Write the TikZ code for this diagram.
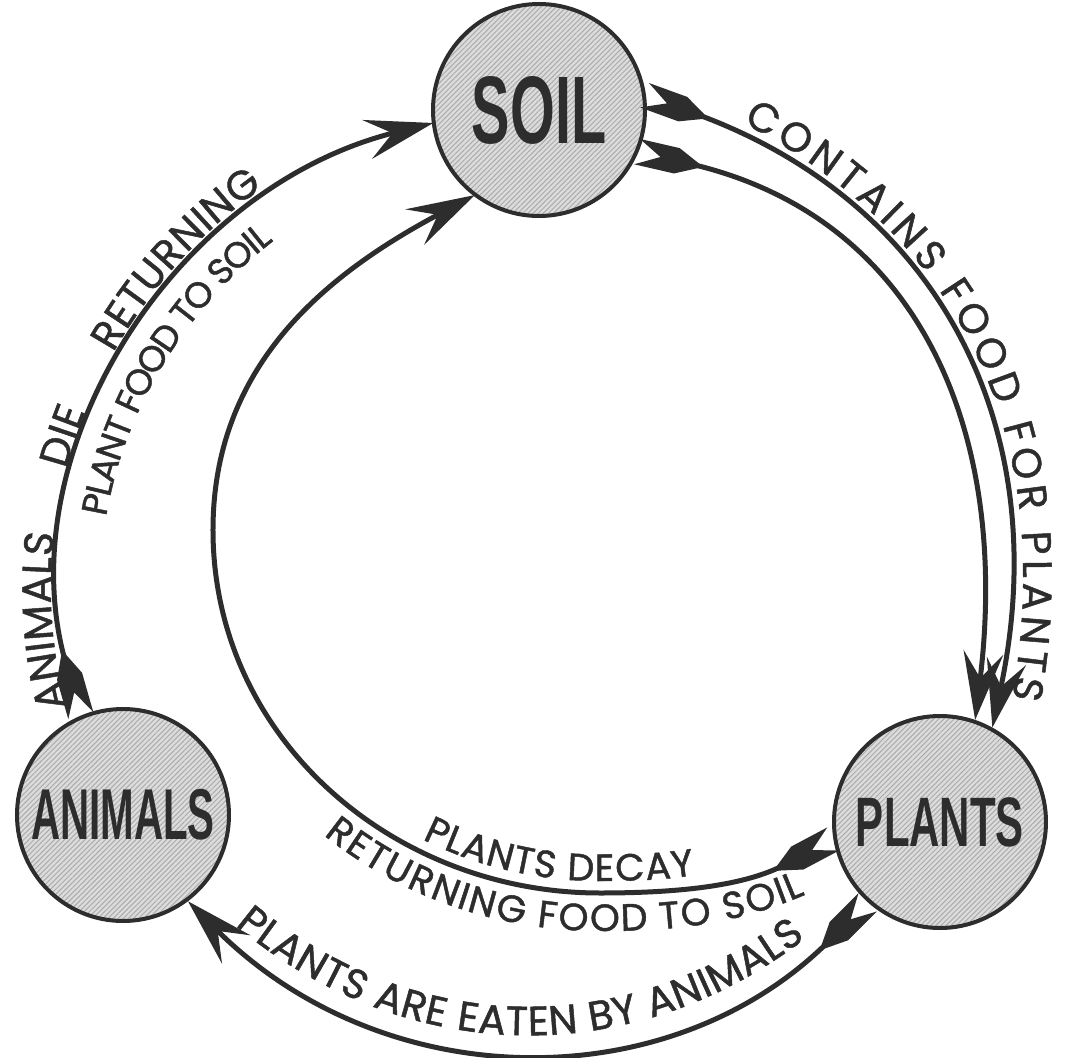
\documentclass[tikz,border=0pt]{standalone}
\usepackage{fontspec}
\usepackage{graphicx}
\usetikzlibrary{arrows.meta,decorations.text,patterns.meta}
\newfontfamily\pathfont{Poppins}[FakeBold=1.2]
\newfontfamily\discfont{Liberation Sans}
\definecolor{ink}{HTML}{2D2D2D}
\definecolor{discgray}{HTML}{DCDCDC}
\definecolor{hatchgray}{HTML}{ABABAB}

\newcommand{\wordsL}{\pathfont\fontsize{20.5}{23}\selectfont}
\newcommand{\wordsS}{\pathfont\fontsize{19}{21}\selectfont}
\newcommand{\wordsXS}{\pathfont\fontsize{18}{20}\selectfont}

% notched tail at the start of every flow
\pgfdeclarearrow{
  name = Fletch,
  parameters = {\the\pgfarrowlength,\the\pgfarrowwidth,\the\pgfarrowinset},
  setup code = {
    \pgfarrowssettipend{0pt}
    \pgfarrowssetbackend{-\pgfarrowlength}
    \pgfarrowssetlineend{-.8\pgfarrowlength}
    \pgfarrowssavethe\pgfarrowlength
    \pgfarrowssavethe\pgfarrowwidth
    \pgfarrowssavethe\pgfarrowinset
  },
  drawing code = {
    \pgfpathmoveto{\pgfqpoint{0pt}{.5\pgfarrowwidth}}
    \pgfpathlineto{\pgfqpoint{-.6\pgfarrowlength}{.5\pgfarrowwidth}}
    \pgfpathlineto{\pgfqpoint{-\pgfarrowlength}{0pt}}
    \pgfpathlineto{\pgfqpoint{-.6\pgfarrowlength}{-.5\pgfarrowwidth}}
    \pgfpathlineto{\pgfqpoint{0pt}{-.5\pgfarrowwidth}}
    \pgfpathlineto{\pgfqpoint{-\pgfarrowinset}{0pt}}
    \pgfpathclose
    \pgfusepathqfill
  },
  defaults = {length = 34pt, width = 13pt, inset = 12pt}
}

\begin{document}
\begin{tikzpicture}[
  x=0.5pt, y=0.5pt,
  disc/.style={
    circle,
    draw=ink,
    line width=2pt,
    minimum size=106pt,
    inner sep=0pt,
    preaction={fill=discgray},
    pattern={Lines[angle=45, distance=1.8pt, line width=0.5pt]},
    pattern color=hatchgray,
    font=\discfont\bfseries,
    text=ink
  },
  flow/.style={
    draw=ink,
    line width=2.5pt,
    {Fletch}-{Stealth[length=34pt, width=20pt, inset=13pt]}
  },
  pathwords/.style={
    decorate,
    decoration={text along path, text color=ink, #1}
  }
]
  \useasboundingbox (-535,-482) rectangle (532,575);

  % ----------------------------------------------------
  % THE THREE STATIONS
  % ----------------------------------------------------
  \node[disc] (soil) at (4,465) {\scalebox{0.6}[1]{\fontsize{48}{48}\selectfont SOIL}};
  \node[disc] (animals) at (-412,-240) {\scalebox{0.56}[1]{\fontsize{36}{36}\selectfont ANIMALS}};
  \node[disc] (plants) at (405,-247) {\scalebox{0.6}[1]{\fontsize{35}{35}\selectfont PLANTS}};

  % way points of the inner loop
  \coordinate (ibot) at (65,-318);
  \coordinate (ileft) at (-322,45);

  % ----------------------------------------------------
  % FLOWS
  % ----------------------------------------------------
  \draw[flow] (animals.113) to[out=106, in=194, looseness=1.0] (soil.187);
  \draw[flow] (soil.8) to[out=-20, in=78, looseness=1.1] (plants.61);
  \draw[flow] (plants.228) to[out=225, in=-45, looseness=1.05] (animals.-53);
  \draw[flow] (soil.-23) to[out=-13, in=83, looseness=1.12] (plants.71);
  \draw[flow] (plants.189) to[out=208, in=0] (ibot) to[out=180, in=-90] (ileft) to[out=90, in=208] (soil.233);

  % ----------------------------------------------------
  % WORDS ALONG THE FLOWS
  % ----------------------------------------------------
  \path[pathwords={text={|\wordsL|ANIMALS DIE RETURNING}, raise=6pt,
      text align={fit to path stretching spaces, left indent=6pt, right indent=90pt}}]
    (animals.113) to[out=106, in=194, looseness=1.0] (soil.187);
  \path[pathwords={text={|\wordsXS|PLANT FOOD TO SOIL}, raise=-18.5pt, text align={left indent=104pt}}]
    (animals.113) to[out=106, in=194, looseness=1.0] (soil.187);
  \path[pathwords={text={|\wordsL|CONTAINS FOOD FOR PLANTS}, raise=7pt,
      text align={fit to path, left indent=50pt, right indent=16pt}}]
    (soil.8) to[out=-20, in=78, looseness=1.1] (plants.61);
  \path[pathwords={text={|\wordsL|PLANTS ARE EATEN BY ANIMALS}, raise=7pt,
      text align={fit to path, left indent=26pt, right indent=36pt}}]
    (animals.-53) to[out=-45, in=225, looseness=1.05] (plants.228);
  \path[pathwords={text={|\wordsS|PLANTS DECAY}, raise=6pt,
      text align={fit to path, left indent=200pt, right indent=73pt}}]
    (ileft) to[out=-90, in=180] (ibot) to[out=0, in=208] (plants.189);
  \path[pathwords={text={|\wordsS|RETURNING FOOD TO SOIL}, raise=-19pt,
      text align={fit to path, left indent=158pt, right indent=24pt}}]
    (ileft) to[out=-90, in=180] (ibot) to[out=0, in=208] (plants.189);

\end{tikzpicture}
\end{document}
